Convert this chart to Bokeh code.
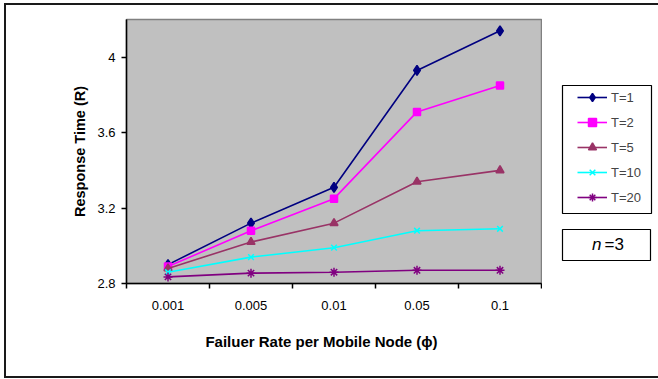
from bokeh.plotting import figure
from bokeh.layouts import row
from bokeh.models import (FixedTicker, Legend, LegendItem, Label, Range1d,
                          ColumnDataSource)
from bokeh.embed import file_html
from bokeh.resources import INLINE

# failure rate categories (x axis) and response time per threshold T
rates = ["0.001", "0.005", "0.01", "0.05", "0.1"]
t1 = [2.90, 3.12, 3.31, 3.93, 4.14]
t2 = [2.89, 3.08, 3.25, 3.71, 3.85]
t5 = [2.88, 3.02, 3.12, 3.34, 3.40]
t10 = [2.86, 2.94, 2.99, 3.08, 3.09]
t20 = [2.835, 2.855, 2.86, 2.87, 2.87]
y_ticks = [2.8, 3.2, 3.6, 4.0]
y_tick_labels = ["2.8", "3.2", "3.6", "4"]

FONT = "Liberation Sans"
INK = "#1a1a1a"

xs = [i + 0.5 for i in range(len(rates))]

# chart border (left, top, bottom edges) painted behind the transparent canvas
def border_css(left_edge):
    layers = ["linear-gradient(%s,%s)" % (INK, INK)] * (3 if left_edge else 2)
    if left_edge:
        pos = "4px 3px, 4px 3px, 4px 376px"
        size = "2px 375px, 100% 2px, 100% 2px"
    else:
        pos = "0px 3px, 0px 376px"
        size = "100% 2px, 100% 2px"
    return {"background-color": "white", "background-image": ", ".join(layers),
            "background-repeat": "no-repeat", "background-position": pos,
            "background-size": size}

p = figure(width=542, height=379, output_backend="svg", toolbar_location=None,
           x_range=Range1d(0, len(rates)), y_range=Range1d(2.8, 4.2),
           min_border_left=126, min_border_right=1,
           min_border_top=19, min_border_bottom=96)
p.background_fill_color = "#C0C0C0"
p.border_fill_color = None
p.outline_line_color = "#808080"
p.outline_line_width = 1.5
p.xgrid.visible = False
p.ygrid.visible = False
p.styles = border_css(True)

# x axis: category labels centred, tick marks on the category boundaries
xa = p.xaxis[0]
xa.ticker = FixedTicker(ticks=xs, minor_ticks=list(range(len(rates) + 1)))
xa.major_label_overrides = {x: r for x, r in zip(xs, rates)}
xa.major_tick_out = 0
xa.major_tick_in = 0
xa.minor_tick_out = 5
xa.minor_tick_in = 0
xa.minor_tick_line_color = "black"
xa.minor_tick_line_width = 1.5
xa.axis_line_color = "black"
xa.axis_line_width = 1.5
xa.major_label_standoff = 12
xa.major_label_text_font = FONT
xa.major_label_text_font_size = "13px"
xa.major_label_text_color = "black"
xa.axis_label = "Failuer Rate per Mobile Node (\u03d5)" + "\u00a0" * 6
xa.axis_label_text_font = FONT
xa.axis_label_text_font_size = "15px"
xa.axis_label_text_font_style = "bold"
xa.axis_label_text_color = "black"
xa.axis_label_standoff = 20

ya = p.yaxis[0]
ya.ticker = FixedTicker(ticks=y_ticks, minor_ticks=[])
ya.major_label_overrides = {v: s for v, s in zip(y_ticks, y_tick_labels)}
ya.major_tick_out = 5
ya.major_tick_in = 0
ya.major_tick_line_color = "black"
ya.major_tick_line_width = 1.5
ya.axis_line_color = "black"
ya.axis_line_width = 1.5
ya.major_label_standoff = 6
ya.major_label_text_font = FONT
ya.major_label_text_font_size = "13px"
ya.major_label_text_color = "black"
ya.axis_label = "Response Time (R)"
ya.axis_label_text_font = FONT
ya.axis_label_text_font_size = "14.5px"
ya.axis_label_text_font_style = "bold"
ya.axis_label_text_color = "black"
ya.axis_label_standoff = 6

series = [
    ("T=1", t1, "#000080", "diamond", 10),
    ("T=2", t2, "#FF00FF", "square", 7),
    ("T=5", t5, "#993366", "triangle", 8),
    ("T=10", t10, "#00FFFF", "x", 8),
    ("T=20", t20, "#800080", "asterisk", 9),
]

# side panel holding the legend and the parameter box; its frame spans the
# same rows as the main plot area (pixel rows 19..283), so use pixel ranges
side = figure(width=116, height=379, output_backend="svg", toolbar_location=None,
              x_range=Range1d(542, 658), y_range=Range1d(283, 19),
              x_axis_type=None, y_axis_type=None,
              min_border_left=0, min_border_right=0,
              min_border_top=19, min_border_bottom=96)
side.background_fill_color = None
side.border_fill_color = None
side.outline_line_color = None
side.xgrid.visible = False
side.ygrid.visible = False
side.styles = border_css(False)

nan = float("nan")
items = []
for name, vals, color, marker, size in series:
    src = ColumnDataSource(dict(x=xs, y=vals))
    p.line("x", "y", source=src, line_color=color, line_width=1.6)
    p.scatter("x", "y", source=src, marker=marker, size=size,
              line_color=color, fill_color=color, line_width=1.5)
    # legend swatches share the series styling
    key = ColumnDataSource(dict(x=[nan], y=[nan]))
    ln = side.line("x", "y", source=key, line_color=color, line_width=1.6)
    mk = side.scatter("x", "y", source=key, marker=marker, size=size,
                      line_color=color, fill_color=color, line_width=1.5)
    items.append(LegendItem(label=name, renderers=[ln, mk]))

legend = Legend(items=items, location=(30, 71), padding=5, spacing=5,
                glyph_width=30, glyph_height=20, label_height=20,
                label_standoff=4, label_text_font=FONT,
                label_text_font_size="13px", border_line_alpha=0,
                background_fill_alpha=0, margin=0)
side.add_layout(legend, "center")

side.quad(left=[562], right=[651], top=[85], bottom=[213],
          fill_color=None, line_color="black", line_width=1.2)
side.quad(left=[562], right=[650], top=[229], bottom=[260],
          fill_color=None, line_color="black", line_width=1.2)
side.add_layout(Label(x=601, y=244, text="n", text_font=FONT,
                      text_font_size="17px", text_font_style="italic",
                      text_align="right", text_baseline="middle",
                      text_color="black"))
side.add_layout(Label(x=604, y=244, text="=3", text_font=FONT,
                      text_font_size="17px", text_align="left",
                      text_baseline="middle", text_color="black"))

layout = row(p, side, spacing=0)
open("out.html", "w").write(file_html(layout, INLINE))
